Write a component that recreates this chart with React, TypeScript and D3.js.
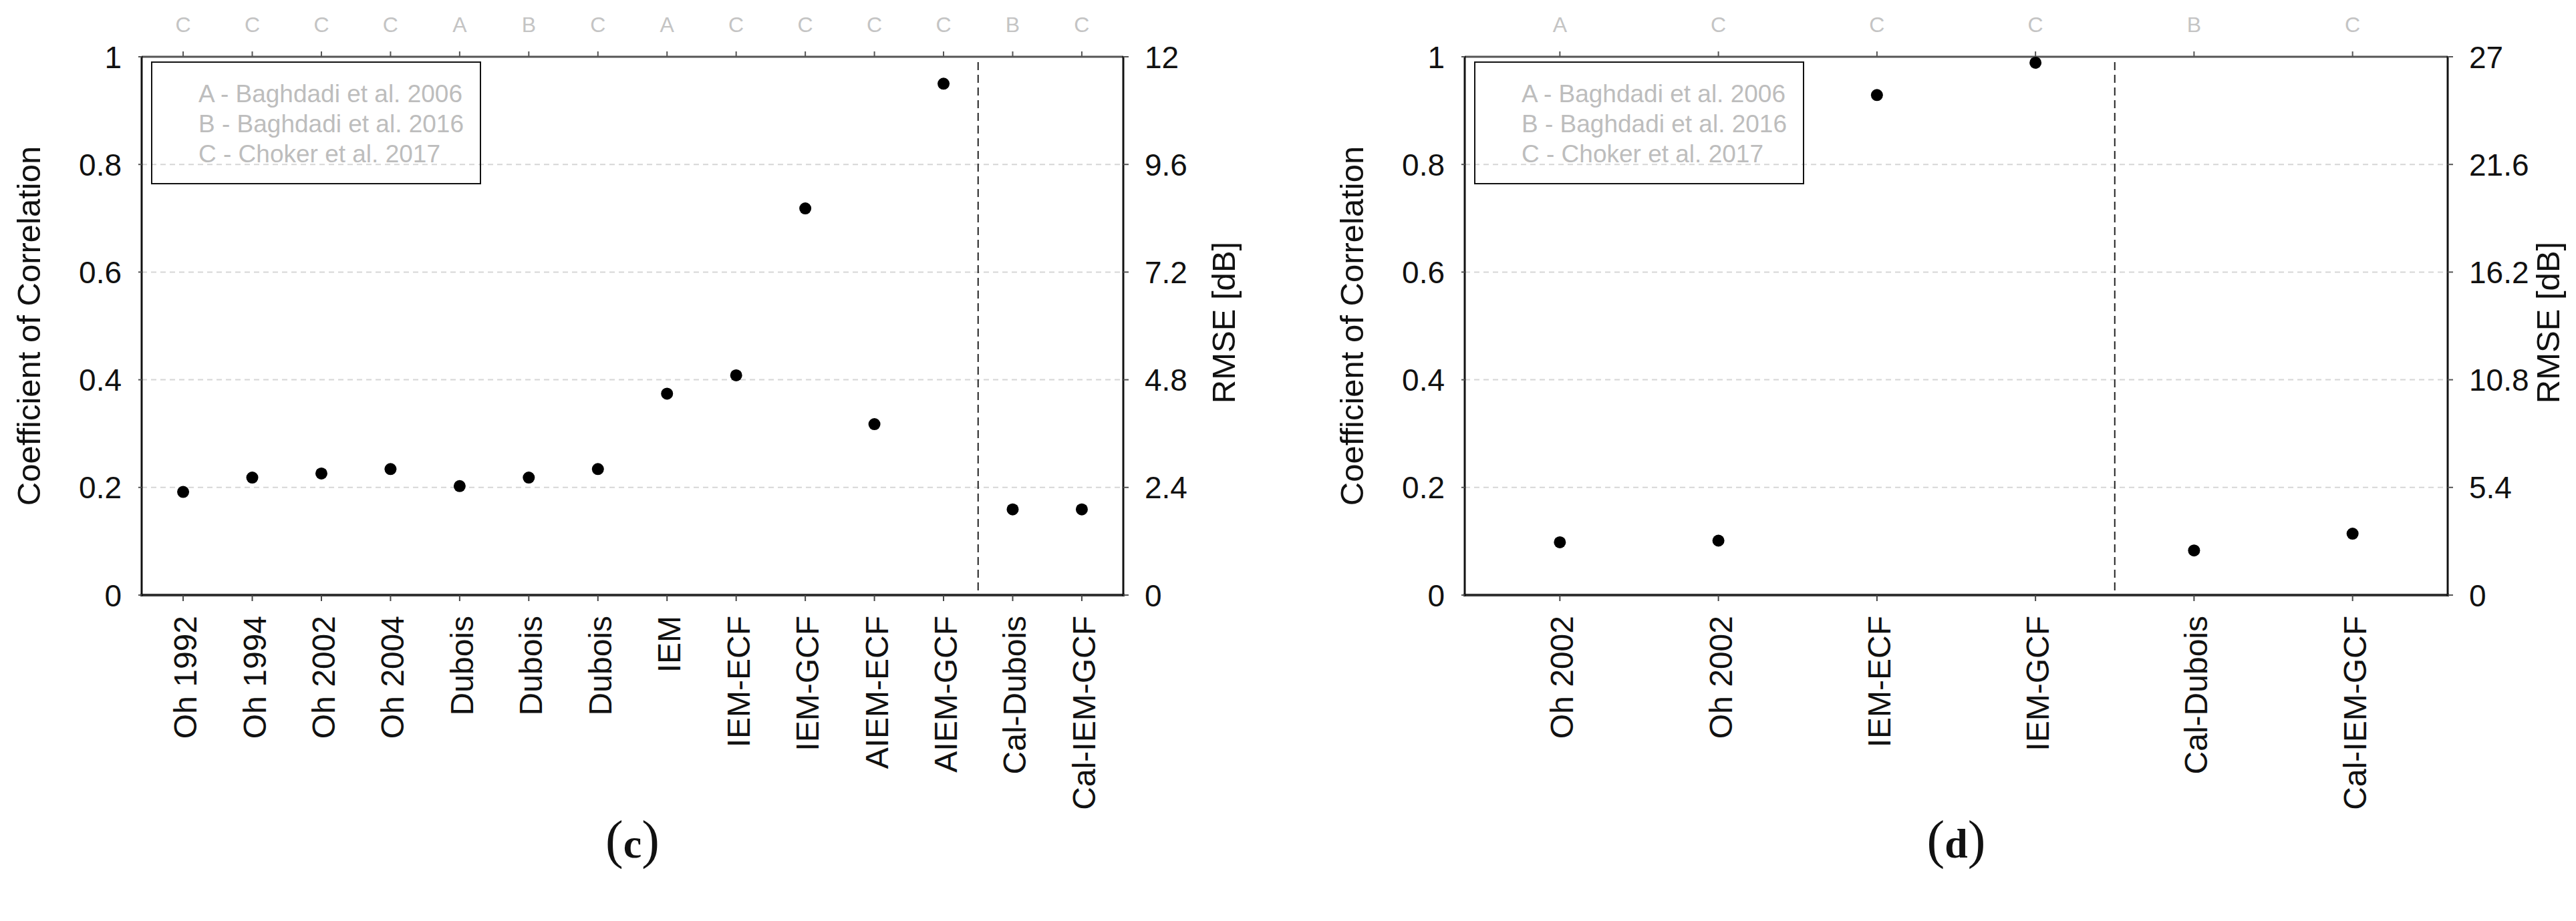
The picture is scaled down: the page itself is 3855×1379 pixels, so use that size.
import React from "react";
import * as d3 from "d3";

// ---------- DATA ----------
const cCategories = ["Oh 1992", "Oh 1994", "Oh 2002", "Oh 2004", "Dubois", "Dubois", "Dubois", "IEM", "IEM-ECF", "IEM-GCF", "AIEM-ECF", "AIEM-GCF", "Cal-Dubois", "Cal-IEM-GCF"];
const cRefs = ["C", "C", "C", "C", "A", "B", "C", "A", "C", "C", "C", "C", "B", "C"];
const cRmse = [2.3, 2.62, 2.71, 2.81, 2.43, 2.62, 2.81, 4.49, 4.9, 8.62, 3.81, 11.4, 1.91, 1.91];
const cRmseTicks = [0, 2.4, 4.8, 7.2, 9.6, 12];
const cDividerAfter = 11;

const dCategories = ["Oh 2002", "Oh 2002", "IEM-ECF", "IEM-GCF", "Cal-Dubois", "Cal-IEM-GCF"];
const dRefs = ["A", "C", "C", "C", "B", "C"];
const dRmse = [2.65, 2.73, 25.08, 26.7, 2.24, 3.08];
const dRmseTicks = [0, 5.4, 10.8, 16.2, 21.6, 27];
const dDividerAfter = 3;

const corrTicks = [0, 0.2, 0.4, 0.6, 0.8, 1];
const legendLines = ["A - Baghdadi et al. 2006", "B - Baghdadi et al. 2016", "C - Choker et al. 2017"];

const SANS = "'Liberation Sans', Arial, sans-serif";
const SERIF = "'Liberation Serif', 'Times New Roman', serif";

const TOP = 85;
const BOTTOM = 891;

function Panel({ x0, x1, categories, refs, rmse, rmseTicks, dividerAfter, caption }) {
  const n = categories.length;
  const x = d3.scaleLinear().domain([-0.6, n - 0.4]).range([x0, x1]);
  const yCorr = d3.scaleLinear().domain([0, 1]).range([BOTTOM, TOP]);
  const rmseMax = rmseTicks[rmseTicks.length - 1];
  const yR = d3.scaleLinear().domain([0, rmseMax]).range([BOTTOM, TOP]);
  const idx = d3.range(n);
  const fmtC = (v) => (v === 0 || v === 1 ? String(v) : d3.format(".1f")(v));
  const fmtR = (v) => (Number.isInteger(v) ? String(v) : d3.format(".1f")(v));
  const divX = x(dividerAfter + 0.5);
  return (
    <g>
      {/* gridlines */}
      {corrTicks.filter((t) => t > 0 && t < 1).map((t) => (
        <line key={"g" + t} x1={x0} x2={x1} y1={yCorr(t)} y2={yCorr(t)} stroke="#d6d6d6" strokeWidth={2} strokeDasharray="8 6" />
      ))}
      {/* divider */}
      <line x1={divX} x2={divX} y1={TOP + 8} y2={BOTTOM} stroke="#222" strokeWidth={2} strokeDasharray="12 7" />
      {/* top axis */}
      <line x1={x0} x2={x1} y1={TOP} y2={TOP} stroke="#555" strokeWidth={3} />
      {idx.map((i) => (
        <line key={"tt" + i} x1={x(i)} x2={x(i)} y1={TOP} y2={TOP - 8} stroke="#555" strokeWidth={2} />
      ))}
      {idx.map((i) => (
        <text key={"ref" + i} x={x(i)} y={48} textAnchor="middle" fontFamily={SANS} fontSize={32} fill="#c4c4c4">{refs[i]}</text>
      ))}
      {/* bottom axis */}
      <line x1={x0 - 2} x2={x1 + 2} y1={BOTTOM} y2={BOTTOM} stroke="#333" strokeWidth={4} />
      {idx.map((i) => (
        <line key={"bt" + i} x1={x(i)} x2={x(i)} y1={BOTTOM} y2={BOTTOM + 9} stroke="#444" strokeWidth={2} />
      ))}
      {idx.map((i) => (
        <text key={"xl" + i} transform={`translate(${x(i) + 20},922) rotate(-90)`} textAnchor="end" fontFamily={SANS} fontSize={48} fill="#111">{categories[i]}</text>
      ))}
      {/* left axis */}
      <line x1={x0} x2={x0} y1={TOP - 1} y2={BOTTOM + 2} stroke="#111" strokeWidth={3} />
      {corrTicks.map((t) => (
        <g key={"lt" + t}>
          <line x1={x0 - 5} x2={x0} y1={yCorr(t)} y2={yCorr(t)} stroke="#555" strokeWidth={2} />
          <text x={x0 - 30} y={yCorr(t)} dy="0.36em" textAnchor="end" fontFamily={SANS} fontSize={46} fill="#111">{fmtC(t)}</text>
        </g>
      ))}
      <text transform={`translate(${x0 - 152},${(TOP + BOTTOM) / 2}) rotate(-90)`} textAnchor="middle" fontFamily={SANS} fontSize={49} fill="#111">Coefficient of Correlation</text>
      {/* right axis */}
      <line x1={x1} x2={x1} y1={TOP - 1} y2={BOTTOM + 2} stroke="#111" strokeWidth={3} />
      {rmseTicks.map((t) => (
        <g key={"rt" + t}>
          <line x1={x1} x2={x1 + 8} y1={yR(t)} y2={yR(t)} stroke="#555" strokeWidth={2} />
          <text x={x1 + 32} y={yR(t)} dy="0.36em" textAnchor="start" fontFamily={SANS} fontSize={46} fill="#111">{fmtR(t)}</text>
        </g>
      ))}
      <text transform={`translate(${x1 + 167},${(TOP + BOTTOM) / 2 - 5}) rotate(-90)`} textAnchor="middle" fontFamily={SANS} fontSize={49} fill="#111">RMSE [dB]</text>
      {/* legend */}
      <rect x={x0 + 15} y={93} width={492} height={182} fill="none" stroke="#111" strokeWidth={2} />
      {legendLines.map((l, i) => (
        <text key={"lg" + i} x={x0 + 85} y={153 + i * 45} fontFamily={SANS} fontSize={37} fill="#bdbdbd">{l}</text>
      ))}
      {/* points */}
      {idx.map((i) => (
        <circle key={"p" + i} cx={x(i)} cy={yR(rmse[i])} r={9} fill="#000" />
      ))}
      {/* caption */}
      <text x={(x0 + x1) / 2} y={1284} textAnchor="middle" fontFamily={SERIF} fill="#111">
        <tspan fontSize={80}>(</tspan>
        <tspan fontSize={62} fontWeight="bold">{caption}</tspan>
        <tspan fontSize={80}>)</tspan>
      </text>
    </g>
  );
}

export default function App() {
  return (
    <svg width={3855} height={1379} style={{ position: "absolute", left: 0, top: 0, background: "#fff" }}>
      <rect x={0} y={0} width={3855} height={1379} fill="#fff" />
      <Panel x0={212} x1={1681} categories={cCategories} refs={cRefs} rmse={cRmse} rmseTicks={cRmseTicks} dividerAfter={cDividerAfter} caption="c" />
      <Panel x0={2192} x1={3663} categories={dCategories} refs={dRefs} rmse={dRmse} rmseTicks={dRmseTicks} dividerAfter={dDividerAfter} caption="d" />
    </svg>
  );
}
